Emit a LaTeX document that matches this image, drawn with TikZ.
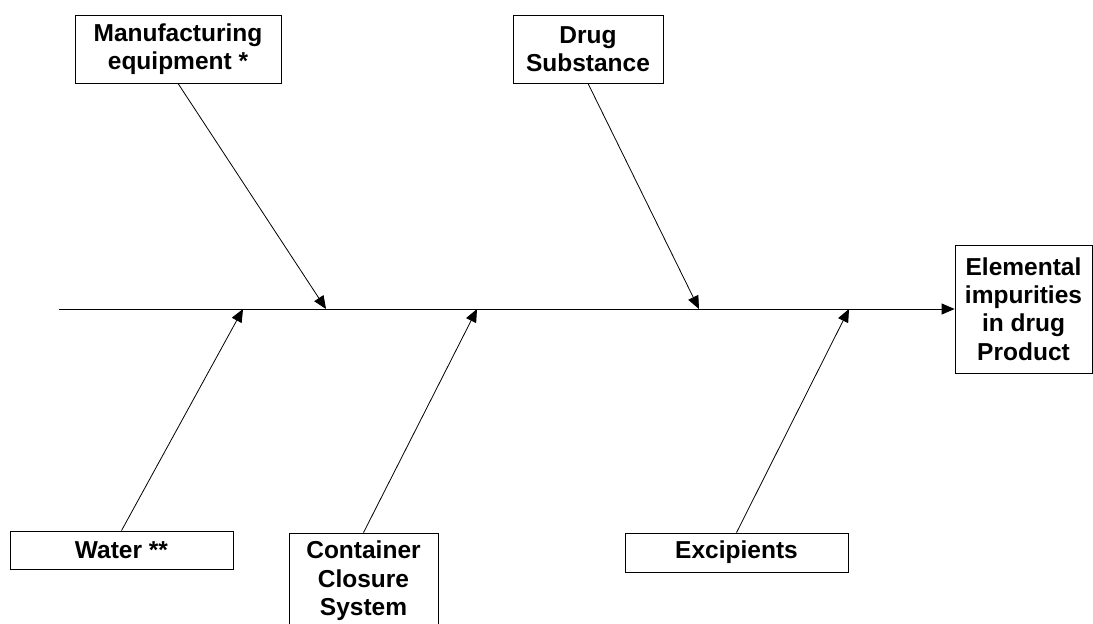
\documentclass[tikz,border=0pt]{standalone}
\usepackage{fontspec}
\setmainfont{Liberation Sans}
\usetikzlibrary{arrows.meta}
\begin{document}
\begin{tikzpicture}[x=1pt,y=-1pt,
  cause/.style={draw=black,line width=0.8pt,fill=white,inner sep=0pt,align=center,
    font=\bfseries\fontsize{24.5}{28.3}\selectfont},
  bone/.style={draw=black,line width=0.8pt,-{Triangle[length=13pt,width=11pt]}}]
\useasboundingbox (0,0) rectangle (1093,624);
\clip (0,0) rectangle (1093,624);
\fill[white] (0,0) rectangle (1093,624);
% nodes
\node[cause,minimum width=206pt,minimum height=68pt] (mfg) at (178,49) {Manufacturing\\equipment *};
\node[cause,minimum width=150pt,minimum height=68pt] (drug) at (588,49) {Drug\\Substance};
\node[cause,minimum width=137pt,minimum height=128pt] (prod) at (1023.5,309) {Elemental\\impurities\\in drug\\Product};
\node[cause,minimum width=223pt,minimum height=38pt] (water) at (121.5,550) {Water **};
\node[cause,minimum width=149pt,minimum height=95.5pt] (ccs) at (363.5,580.75) {Container\\Closure\\System};
\node[cause,minimum width=223pt,minimum height=39pt] (exc) at (736.5,552.5) {Excipients};
% spine
\coordinate (tail) at (59,309);
\coordinate (pm) at (326,309);
\coordinate (pd) at (699,309);
\coordinate (pw) at (243,309);
\coordinate (pc) at (477,309);
\coordinate (pe) at (849,309);
\draw[bone] (tail) -- (prod.west);
\draw[bone] (mfg.south) -- (pm);
\draw[bone] (drug.south) -- (pd);
\draw[bone] (water.north) -- (pw);
\draw[bone] (ccs.north) -- (pc);
\draw[bone] (exc.north) -- (pe);
\end{tikzpicture}
\end{document}
